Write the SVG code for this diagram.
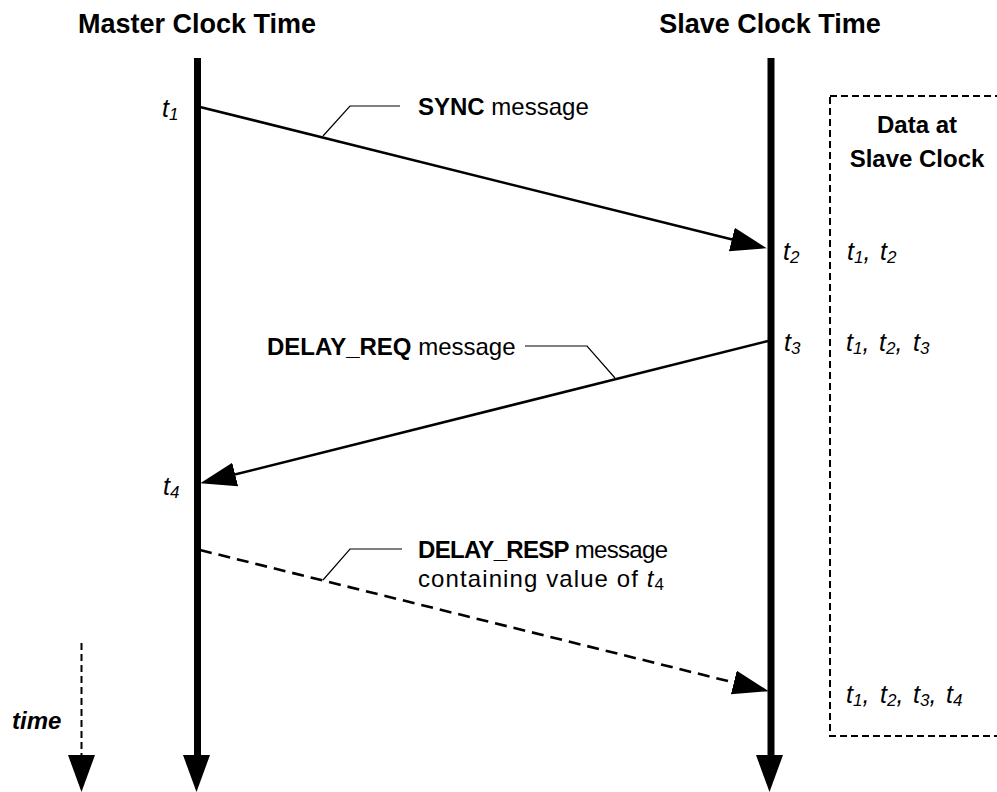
<svg xmlns="http://www.w3.org/2000/svg" width="997" height="792" viewBox="0 0 997 792">
<style>
text{font-family:"Liberation Sans",Arial,sans-serif;fill:#000}
.hdr{font-size:27px;font-weight:bold;text-anchor:middle}
.bhdr{font-size:24px;font-weight:bold;text-anchor:middle}
.lbl{font-size:24px}
.b{font-weight:bold}
.it{font-size:25px;font-style:italic}
.sub{font-size:17px}
.life{stroke:#000;stroke-width:7;fill:none}
.msg{stroke:#000;stroke-width:2.6;fill:none}
.dash{stroke-dasharray:12 7}
.lead{stroke:#000;stroke-width:1.2;fill:none}
.box{stroke:#000;stroke-width:2;fill:none;stroke-dasharray:7 4}
.head{fill:#000;stroke:none}
</style>
<defs>
<marker id="ah" markerUnits="userSpaceOnUse" markerWidth="36" markerHeight="25" viewBox="0 0 34 23" refX="22" refY="11.5" orient="auto">
<path d="M0,0 L34,11.5 L0,23 z" fill="#000"/>
</marker>
</defs>

<g id="master">
<text class="hdr" x="197" y="33">Master Clock Time</text>
<line class="life" x1="197.5" y1="58" x2="197.5" y2="760"/>
<polygon class="head" points="183,755 210,755 196.5,792"/>
<text class="it" x="162" y="117">t<tspan class="sub" dy="3">1</tspan></text>
<text class="it" x="163" y="495">t<tspan class="sub" dy="3">4</tspan></text>
</g>

<g id="slave">
<text class="hdr" x="770" y="33">Slave Clock Time</text>
<line class="life" x1="771" y1="58" x2="771" y2="760"/>
<polygon class="head" points="756,755 783,755 769.5,792"/>
<text class="it" x="783" y="260">t<tspan class="sub" dy="3">2</tspan></text>
<text class="it" x="784" y="351">t<tspan class="sub" dy="3">3</tspan></text>
</g>

<g id="data-box">
<rect class="box" x="830" y="96" width="200" height="640"/>
<text class="bhdr" x="917" y="133">Data at</text>
<text class="bhdr" x="917" y="167">Slave Clock</text>
<text class="it" x="847" y="260">t<tspan class="sub" dy="3">1</tspan><tspan dy="-3">,</tspan><tspan x="880">t</tspan><tspan class="sub" dy="3">2</tspan></text>
<text class="it" x="846" y="351">t<tspan class="sub" dy="3">1</tspan><tspan dy="-3">,</tspan><tspan x="879">t</tspan><tspan class="sub" dy="3">2</tspan><tspan dy="-3">,</tspan><tspan x="913">t</tspan><tspan class="sub" dy="3">3</tspan></text>
<text class="it" x="846" y="703">t<tspan class="sub" dy="3">1</tspan><tspan dy="-3">,</tspan><tspan x="880">t</tspan><tspan class="sub" dy="3">2</tspan><tspan dy="-3">,</tspan><tspan x="913">t</tspan><tspan class="sub" dy="3">3</tspan><tspan dy="-3">,</tspan><tspan x="946">t</tspan><tspan class="sub" dy="3">4</tspan></text>
</g>

<g id="time-axis">
<line x1="81.5" y1="643" x2="81.5" y2="758" stroke="#000" stroke-width="2" stroke-dasharray="7 4"/>
<polygon class="head" points="68,755 95,755 81.5,792"/>
<text x="12" y="729" font-size="24" font-weight="bold" font-style="italic">time</text>
</g>

<g id="connectors">
<line class="msg" x1="200" y1="107" x2="754.4" y2="245.1" marker-end="url(#ah)"/>
<polyline class="lead" points="323,136 350,106 400,106"/>
<line class="msg" x1="768" y1="341" x2="212.6" y2="480.1" marker-end="url(#ah)"/>
<polyline class="lead" points="525,346 587,346 615,378"/>
<line class="msg dash" x1="200" y1="550" x2="756.4" y2="688.1" marker-end="url(#ah)"/>
<polyline class="lead" points="323,580 350,549 402,549"/>
</g>

<g id="labels">
<text class="lbl" x="418" y="115"><tspan class="b">SYNC</tspan> message</text>
<text class="lbl" x="267" y="355"><tspan class="b">DELAY_REQ</tspan> message</text>
<text class="lbl" x="418" y="558" textLength="250"><tspan class="b">DELAY_RESP</tspan> message</text>
<text class="lbl" x="418" y="587" textLength="246">containing value of <tspan font-style="italic">t</tspan><tspan class="sub" dy="3">4</tspan></text>
</g>
</svg>
